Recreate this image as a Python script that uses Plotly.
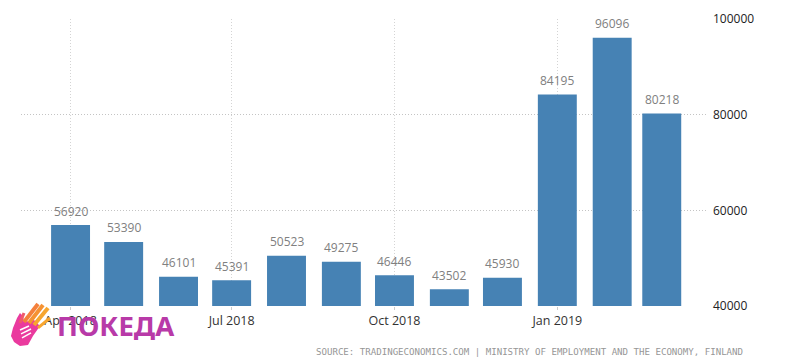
import plotly.graph_objects as go

dates = ["2018-04-01","2018-05-01","2018-06-01","2018-07-01","2018-08-01","2018-09-01",
         "2018-10-01","2018-11-01","2018-12-01","2019-01-01","2019-02-01","2019-03-01"]
values = [56920,53390,46101,45391,50523,49275,46446,43502,45930,84195,96096,80218]
tick_dates = ["2018-04-01","2018-07-01","2018-10-01","2019-01-01"]
tick_labels = ["Apr 2018","Jul 2018","Oct 2018","Jan 2019"]
y_ticks = [40000,60000,80000,100000]
y_labels = ["40000","60000","80000","100000"]
source = "SOURCE: TRADINGECONOMICS.COM | MINISTRY OF EMPLOYMENT AND THE ECONOMY, FINLAND"

W, H = 791, 363
OFF = 8          # page margin around the figure
PL, PR, PT, PB = 21, 706, 18.5, 306

def xp(x):
    return (x - PL) / (PR - PL)

def yp(y):
    return (PB - y) / (PB - PT)

fig = go.Figure(go.Bar(
    x=dates, y=values, width=22*86400000, marker=dict(color="#4682b4", line_width=0),
))

def poly(points, color):
    d = "M" + " L".join(f"{xp(x):.4f},{yp(y):.4f}" for x, y in points) + " Z"
    return dict(type="path", xref="paper", yref="paper", path=d, fillcolor=color, line_width=0, layer="above")

def stroke(p0, p1, color, w):
    return dict(type="line", xref="paper", yref="paper", x0=xp(p0[0]), y0=yp(p0[1]), x1=xp(p1[0]), y1=yp(p1[1]),
                line=dict(color=color, width=w), layer="above")

shapes = [
    poly([(11,336),(13,328),(17,318),(20,313),(23,316),(24,322),(34,320),(40,326),(33,336),(28,345),(20,346),(14,342)], "#ea3a9e"),
    stroke((20,323),(24,313),"#ef5a6a",3),
    stroke((24,322),(38,304),"#f4803c",4),
    stroke((29,323),(43,305),"#f59233",4),
    stroke((34,325),(48,308),"#f7a62f",4),
    stroke((38,328),(50,318),"#f7a62f",3),
    stroke((20,330),(29,326),"#ffffff",1.5),
    stroke((21,334),(31,329),"#ffffff",1.5),
    stroke((22,338),(31,333),"#ffffff",1.5),
]

value_labels = [
    dict(x=d, y=v, text=str(v), showarrow=False, yanchor="middle", yshift=14,
         font=dict(family="Open Sans, sans-serif", size=12, color="#808080"))
    for d, v in zip(dates, values)
]

fig.update_layout(
    width=W-OFF, height=H-OFF, showlegend=False, paper_bgcolor="white", plot_bgcolor="white",
    margin=dict(l=PL-OFF, r=W-PR, t=PT-OFF, b=H-PB, autoexpand=False), shapes=shapes,
    font=dict(family="Open Sans, sans-serif"),
    xaxis=dict(type="date", range=["2018-03-04","2019-03-26"], tickvals=tick_dates, ticktext=tick_labels,
               tickfont=dict(size=12.5, color="#333333"), showgrid=True, griddash="1px,2px",
               gridcolor="#d4d4d4", gridwidth=1, ticks="outside", ticklen=3, tickcolor="#cccccc",
               showline=False, zeroline=False, automargin=False),
    yaxis=dict(side="right", range=[40000,100000], tickvals=y_ticks, ticktext=y_labels, ticks="", ticklabelstandoff=6,
               tickfont=dict(size=12, color="#222222"), showgrid=True, griddash="1px,2px",
               gridcolor="#c4c4c4", gridwidth=1, showline=False, zeroline=False, automargin=False),
    annotations=value_labels + [
        dict(text=source, xref="paper", yref="paper", x=xp(745), y=yp(352), xanchor="right", yanchor="middle",
             showarrow=False, font=dict(family="DejaVu Sans Mono, monospace", size=9.1, color="#969696")),
        dict(text="<b>ПОКЕДА</b>", xref="paper", yref="paper", x=xp(57), y=yp(326), xanchor="left", yanchor="middle",
             xshift=-2, showarrow=False, font=dict(family="Noto Sans, sans-serif", size=27.5, color="#b83aa8")),
    ],
)
fig.write_html("out.html")
